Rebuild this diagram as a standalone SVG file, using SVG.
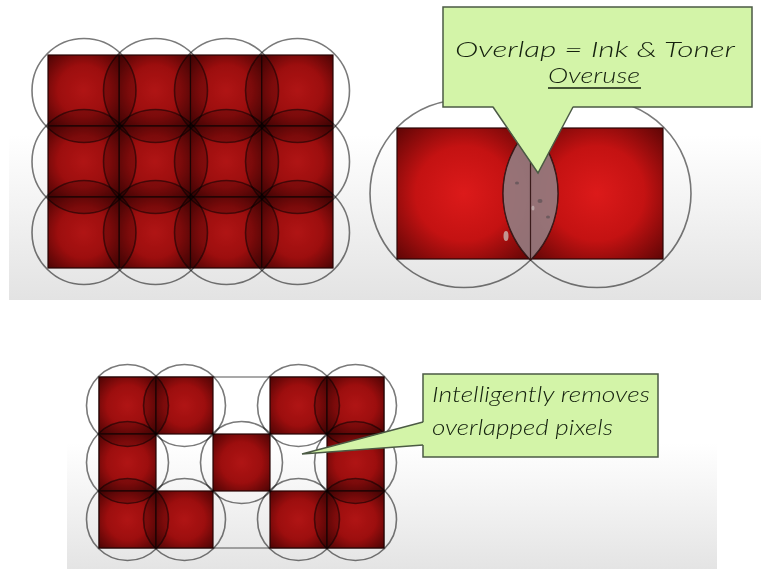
<svg xmlns="http://www.w3.org/2000/svg" width="761" height="569" viewBox="0 0 761 569">
<style>
.px{fill:url(#red);stroke:#2a0505;stroke-width:1.2}
.ring{fill:none;stroke:#7a7a7a;stroke-width:1.6;mix-blend-mode:multiply}
.shade{fill:#000;fill-opacity:0.2;stroke:none}
.call{fill:#d3f4a8;stroke:#4b5a44;stroke-width:1.5}
.wedge{fill:#d3f4a8;stroke:none}
.wedgeline{fill:none;stroke:#4b5a44;stroke-width:1.5;stroke-linejoin:miter}
.hand{font-family:Lato,"Open Sans","Liberation Sans",sans-serif;font-weight:300;font-style:italic;fill:#14200e;font-size:21px}
</style>
<defs>
<radialGradient id="red" cx="0.5" cy="0.5" r="0.72">
<stop offset="0" stop-color="#dc1a1a"/>
<stop offset="0.5" stop-color="#c41212"/>
<stop offset="1" stop-color="#5a0505"/>
</radialGradient>
<linearGradient id="bgTop" x1="0" y1="0" x2="0" y2="1">
<stop offset="0" stop-color="#ffffff"/>
<stop offset="0.45" stop-color="#ffffff"/>
<stop offset="1" stop-color="#e3e3e3"/>
</linearGradient>
<linearGradient id="bgBot" x1="0" y1="0" x2="0" y2="1">
<stop offset="0" stop-color="#ffffff"/>
<stop offset="0.4" stop-color="#ffffff"/>
<stop offset="1" stop-color="#e4e4e4"/>
</linearGradient>
<clipPath id="clipTop"><rect x="48" y="55" width="285" height="213"/></clipPath>
<clipPath id="clipBot">
<rect x="99" y="377" width="57" height="57"/><rect x="156" y="377" width="57" height="57"/><rect x="270" y="377" width="57" height="57"/><rect x="327" y="377" width="57" height="57"/>
<rect x="99" y="434" width="57" height="57"/><rect x="213" y="434" width="57" height="57"/><rect x="327" y="434" width="57" height="57"/>
<rect x="99" y="491" width="57" height="57"/><rect x="156" y="491" width="57" height="57"/><rect x="270" y="491" width="57" height="57"/><rect x="327" y="491" width="57" height="57"/>
</clipPath>
</defs>
<rect x="0" y="0" width="761" height="569" fill="#ffffff"/>
<rect x="9" y="0" width="752" height="300" fill="url(#bgTop)"/>
<rect x="67" y="360" width="650" height="209" fill="url(#bgBot)"/>

<g id="grid-full">
<rect class="px" x="48" y="55" width="71.25" height="71"/><rect class="px" x="119.25" y="55" width="71.25" height="71"/><rect class="px" x="190.5" y="55" width="71.25" height="71"/><rect class="px" x="261.75" y="55" width="71.25" height="71"/>
<rect class="px" x="48" y="126" width="71.25" height="71"/><rect class="px" x="119.25" y="126" width="71.25" height="71"/><rect class="px" x="190.5" y="126" width="71.25" height="71"/><rect class="px" x="261.75" y="126" width="71.25" height="71"/>
<rect class="px" x="48" y="197" width="71.25" height="71"/><rect class="px" x="119.25" y="197" width="71.25" height="71"/><rect class="px" x="190.5" y="197" width="71.25" height="71"/><rect class="px" x="261.75" y="197" width="71.25" height="71"/>
<g clip-path="url(#clipTop)">
<circle class="shade" cx="84" cy="90.5" r="52"/><circle class="shade" cx="155.5" cy="90.5" r="52"/><circle class="shade" cx="226.5" cy="90.5" r="52"/><circle class="shade" cx="297.5" cy="90.5" r="52"/>
<circle class="shade" cx="84" cy="161.5" r="52"/><circle class="shade" cx="155.5" cy="161.5" r="52"/><circle class="shade" cx="226.5" cy="161.5" r="52"/><circle class="shade" cx="297.5" cy="161.5" r="52"/>
<circle class="shade" cx="84" cy="232.5" r="52"/><circle class="shade" cx="155.5" cy="232.5" r="52"/><circle class="shade" cx="226.5" cy="232.5" r="52"/><circle class="shade" cx="297.5" cy="232.5" r="52"/>
</g>
<circle class="ring" cx="84" cy="90.5" r="52"/><circle class="ring" cx="155.5" cy="90.5" r="52"/><circle class="ring" cx="226.5" cy="90.5" r="52"/><circle class="ring" cx="297.5" cy="90.5" r="52"/>
<circle class="ring" cx="84" cy="161.5" r="52"/><circle class="ring" cx="155.5" cy="161.5" r="52"/><circle class="ring" cx="226.5" cy="161.5" r="52"/><circle class="ring" cx="297.5" cy="161.5" r="52"/>
<circle class="ring" cx="84" cy="232.5" r="52"/><circle class="ring" cx="155.5" cy="232.5" r="52"/><circle class="ring" cx="226.5" cy="232.5" r="52"/><circle class="ring" cx="297.5" cy="232.5" r="52"/>
</g>

<g id="pixel-pair">
<rect class="px" x="397" y="128" width="133.5" height="131"/>
<rect class="px" x="530.5" y="128" width="132.5" height="131"/>
<circle class="ring" cx="464" cy="193.5" r="94"/>
<circle class="ring" cx="597" cy="193.5" r="94"/>
<path d="M530.5,127.1 A94,94 0 0,1 530.5,259.9 A94,94 0 0,1 530.5,127.1 Z" fill="#947a7e" fill-opacity="0.93" stroke="#3a1a1a" stroke-width="1.2"/>
<line x1="530.5" y1="128" x2="530.5" y2="259" stroke="#3a1a1a" stroke-width="1.2"/>
<ellipse cx="506" cy="236" rx="2.5" ry="5" fill="#c9b5b0" opacity="0.8"/>
<ellipse cx="517" cy="183" rx="2" ry="1.5" fill="#6d5a5e"/>
<ellipse cx="540" cy="201" rx="2.5" ry="2" fill="#6d5a5e"/>
<ellipse cx="548" cy="217" rx="2" ry="1.5" fill="#6d5a5e"/>
<ellipse cx="533" cy="208" rx="1.5" ry="2.5" fill="#c2b0b0" opacity="0.8"/>
</g>

<g id="grid-reduced">
<rect x="99" y="377" width="285" height="171" fill="none" stroke="#555" stroke-width="1"/>
<rect class="px" x="99" y="377" width="57" height="57"/><rect class="px" x="156" y="377" width="57" height="57"/><rect class="px" x="270" y="377" width="57" height="57"/><rect class="px" x="327" y="377" width="57" height="57"/>
<rect class="px" x="99" y="434" width="57" height="57"/><rect class="px" x="213" y="434" width="57" height="57"/><rect class="px" x="327" y="434" width="57" height="57"/>
<rect class="px" x="99" y="491" width="57" height="57"/><rect class="px" x="156" y="491" width="57" height="57"/><rect class="px" x="270" y="491" width="57" height="57"/><rect class="px" x="327" y="491" width="57" height="57"/>
<g clip-path="url(#clipBot)">
<circle class="shade" cx="127.5" cy="405.5" r="41"/><circle class="shade" cx="184.5" cy="405.5" r="41"/><circle class="shade" cx="298.5" cy="405.5" r="41"/><circle class="shade" cx="355.5" cy="405.5" r="41"/>
<circle class="shade" cx="127.5" cy="462.5" r="41"/><circle class="shade" cx="241.5" cy="462.5" r="41"/><circle class="shade" cx="355.5" cy="462.5" r="41"/>
<circle class="shade" cx="127.5" cy="519.5" r="41"/><circle class="shade" cx="184.5" cy="519.5" r="41"/><circle class="shade" cx="298.5" cy="519.5" r="41"/><circle class="shade" cx="355.5" cy="519.5" r="41"/>
</g>
<circle class="ring" cx="127.5" cy="405.5" r="41"/><circle class="ring" cx="184.5" cy="405.5" r="41"/><circle class="ring" cx="298.5" cy="405.5" r="41"/><circle class="ring" cx="355.5" cy="405.5" r="41"/>
<circle class="ring" cx="127.5" cy="462.5" r="41"/><circle class="ring" cx="241.5" cy="462.5" r="41"/><circle class="ring" cx="355.5" cy="462.5" r="41"/>
<circle class="ring" cx="127.5" cy="519.5" r="41"/><circle class="ring" cx="184.5" cy="519.5" r="41"/><circle class="ring" cx="298.5" cy="519.5" r="41"/><circle class="ring" cx="355.5" cy="519.5" r="41"/>
</g>

<g id="callout-overuse">
<rect class="call" x="443" y="7" width="309" height="100"/>
</g>
<g id="callout-removes">
<rect class="call" x="423" y="374" width="235" height="83"/>
</g>

<g id="connectors">
<polygon class="wedge" points="493,106 538,173 573,106"/>
<polyline class="wedgeline" points="493,107 538,173 573,107"/>
<polygon class="wedge" points="424,422 302,454 424,445"/>
<polyline class="wedgeline" points="423,422 302,454 423,445"/>
</g>

<g id="labels">
<text class="hand" x="455" y="57" textLength="280" lengthAdjust="spacingAndGlyphs">Overlap = Ink &amp; Toner</text>
<text class="hand" x="548" y="82.5" textLength="92" lengthAdjust="spacingAndGlyphs">Overuse</text>
<line x1="548" y1="88" x2="641" y2="88" stroke="#14200e" stroke-width="1.6"/>
<text class="hand" x="432" y="402" textLength="218" lengthAdjust="spacingAndGlyphs">Intelligently removes</text>
<text class="hand" x="432" y="435" textLength="181" lengthAdjust="spacingAndGlyphs">overlapped pixels</text>
</g>
</svg>
